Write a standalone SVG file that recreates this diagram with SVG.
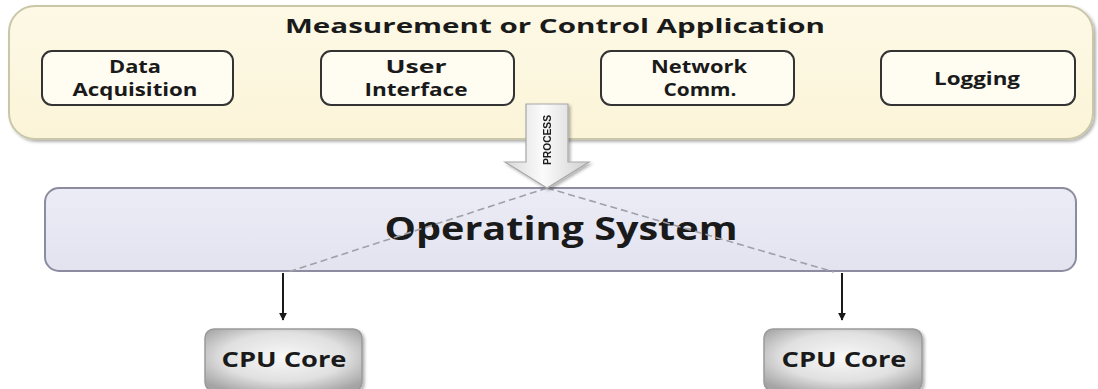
<svg xmlns="http://www.w3.org/2000/svg" width="1098" height="389" viewBox="0 0 1098 389">
  <defs>
    <style>
      text { font-family: "Open Sans", "DejaVu Sans", sans-serif; font-weight: bold; fill: #1a1a1a; text-anchor: middle; }
      .module { fill: #fffdf2; stroke: #333333; stroke-width: 2; }
      .mod-label { font-size: 18.5px; }
      .cpu-label { font-size: 21px; }
      .dash { fill: none; stroke: #a0a0a8; stroke-width: 1.6; stroke-dasharray: 7 4; }
      .link { fill: none; stroke: #1a1a1a; stroke-width: 2; }
    </style>
    <linearGradient id="appFill" x1="0" y1="0" x2="0" y2="1">
      <stop offset="0" stop-color="#fdf9e6"/>
      <stop offset="1" stop-color="#fbf4d8"/>
    </linearGradient>
    <linearGradient id="osFill" x1="0" y1="0" x2="0" y2="1">
      <stop offset="0" stop-color="#ececf6"/>
      <stop offset="1" stop-color="#e3e3f0"/>
    </linearGradient>
    <radialGradient id="cpuFill" cx="0.5" cy="0.45" r="0.65">
      <stop offset="0" stop-color="#f8f8f8"/>
      <stop offset="0.6" stop-color="#e0e0e0"/>
      <stop offset="1" stop-color="#a4a4a4"/>
    </radialGradient>
    <linearGradient id="arrowFill" x1="0" y1="0" x2="1" y2="0">
      <stop offset="0" stop-color="#d8d8d8"/>
      <stop offset="0.45" stop-color="#fbfbfb"/>
      <stop offset="1" stop-color="#cfcfcf"/>
    </linearGradient>
    <filter id="softShadow" x="-20%" y="-20%" width="140%" height="140%">
      <feDropShadow dx="2" dy="2" stdDeviation="1.5" flood-color="#000" flood-opacity="0.3"/>
    </filter>
    <marker id="head" viewBox="0 0 10 10" refX="9" refY="5" markerWidth="4" markerHeight="4" orient="auto">
      <path d="M0,0 L10,5 L0,10 Z" fill="#1a1a1a"/>
    </marker>
  </defs>

  <rect width="1098" height="389" fill="#ffffff"/>

  <!-- application layer -->
  <g id="application">
    <rect x="9" y="6" width="1084" height="133" rx="26" fill="url(#appFill)" stroke="#c9c7a8" stroke-width="2" filter="url(#softShadow)"/>
    <text x="555" y="33" font-size="19.5" textLength="540" lengthAdjust="spacingAndGlyphs">Measurement or Control Application</text>
  </g>

  <g id="data-acquisition">
    <rect class="module" x="42" y="51" width="191" height="54" rx="10"/>
    <text class="mod-label" x="135" y="73" textLength="52" lengthAdjust="spacingAndGlyphs">Data</text>
    <text class="mod-label" x="135" y="96" textLength="125" lengthAdjust="spacingAndGlyphs">Acquisition</text>
  </g>

  <g id="user-interface">
    <rect class="module" x="321" y="51" width="193" height="54" rx="10"/>
    <text class="mod-label" x="416" y="73" textLength="61" lengthAdjust="spacingAndGlyphs">User</text>
    <text class="mod-label" x="416" y="96" textLength="103" lengthAdjust="spacingAndGlyphs">Interface</text>
  </g>

  <g id="network-comm">
    <rect class="module" x="601" y="51" width="193" height="54" rx="10"/>
    <text class="mod-label" x="699" y="73" textLength="96" lengthAdjust="spacingAndGlyphs">Network</text>
    <text class="mod-label" x="700" y="96" textLength="73" lengthAdjust="spacingAndGlyphs">Comm.</text>
  </g>

  <g id="logging">
    <rect class="module" x="881" y="51" width="194" height="54" rx="10"/>
    <text class="mod-label" x="977" y="85" textLength="86" lengthAdjust="spacingAndGlyphs">Logging</text>
  </g>

  <!-- operating system layer -->
  <g id="operating-system">
    <rect x="45" y="188" width="1031" height="83" rx="14" fill="url(#osFill)" stroke="#8c8ca0" stroke-width="2"/>
    <text x="561" y="240" font-size="33" textLength="353" lengthAdjust="spacingAndGlyphs">Operating System</text>
  </g>

  <!-- processor cores -->
  <g id="cpu-core-1">
    <rect x="205" y="329" width="157" height="62" rx="9" fill="url(#cpuFill)" stroke="#9a9a9a" stroke-width="1.5" filter="url(#softShadow)"/>
    <text class="cpu-label" x="284" y="367" textLength="125" lengthAdjust="spacingAndGlyphs">CPU Core</text>
  </g>

  <g id="cpu-core-2">
    <rect x="764" y="329" width="158" height="62" rx="9" fill="url(#cpuFill)" stroke="#9a9a9a" stroke-width="1.5" filter="url(#softShadow)"/>
    <text class="cpu-label" x="844" y="367" textLength="125" lengthAdjust="spacingAndGlyphs">CPU Core</text>
  </g>

  <!-- connectors -->
  <g id="connectors">
    <path class="dash" d="M547,188 L288,272"/>
    <path class="dash" d="M547,188 L834,272"/>
    <path class="link" d="M283,273 L283,320" marker-end="url(#head)"/>
    <path class="link" d="M842,273 L842,320" marker-end="url(#head)"/>
    <g id="process-arrow" filter="url(#softShadow)">
      <path d="M526,104 L568,104 L568,162 L589,162 L547,188 L505,162 L526,162 Z" fill="url(#arrowFill)" stroke="#a8a8a8" stroke-width="1.2"/>
      <text x="0" y="0" font-size="10" transform="translate(551,140) rotate(-90)" textLength="50" lengthAdjust="spacingAndGlyphs" style="font-family:'Liberation Sans','DejaVu Sans',sans-serif">PROCESS</text>
    </g>
  </g>
</svg>
